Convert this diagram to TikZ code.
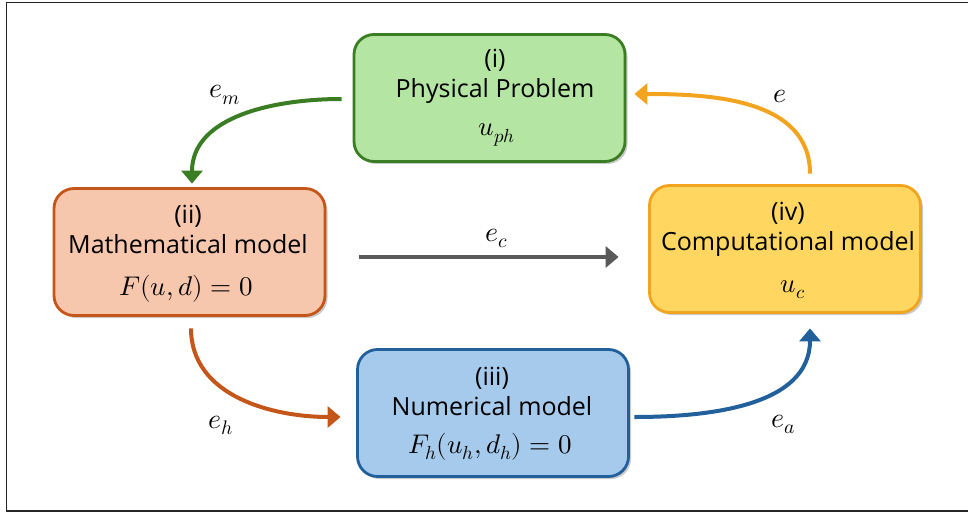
\documentclass[tikz,border=0pt]{standalone}
\usepackage{fontspec}
\usepackage{unicode-math}
\setmathfont{Latin Modern Math}
\newfontfamily\boxfont{Open Sans}
\usetikzlibrary{arrows.meta,shadows}
\definecolor{gfill}{HTML}{B4E5A2}
\definecolor{gline}{HTML}{3B7D23}
\definecolor{ofill}{HTML}{F6C6AD}
\definecolor{oline}{HTML}{C4561A}
\definecolor{yfill}{HTML}{FFD760}
\definecolor{yline}{HTML}{F2A41E}
\definecolor{bfill}{HTML}{A6CAEC}
\definecolor{bline}{HTML}{21609B}
\definecolor{garrow}{HTML}{595959}
\begin{document}
\begin{tikzpicture}[x=1pt,y=1pt,
  box/.style={draw, line width=2.8pt, rounded corners=20pt,
    minimum width=271pt, minimum height=127pt, inner sep=0pt,
    drop shadow={shadow xshift=2.5pt, shadow yshift=-2.5pt, opacity=0.35, fill=black!60}},
  lbl/.style={anchor=base, font=\boxfont\fontsize{25}{30}\selectfont, inner sep=0pt},
  mth/.style={anchor=base, font=\fontsize{27}{32}\selectfont, inner sep=0pt},
  elbl/.style={anchor=base west, font=\fontsize{28}{33}\selectfont, inner sep=0pt},
  conn/.style={line width=4pt, -{Triangle[length=13pt,width=21pt]}},
]
\useasboundingbox (0,0) rectangle (968,-513);
\draw[line width=1.3pt, black!85] (968,-2.5) -- (6.5,-2.5) -- (6.5,-511) -- (968,-511);

% boxes
\node[box, fill=gfill, draw=gline] (phys) at (489.5,-98) {};
\node[box, fill=ofill, draw=oline] (math) at (189.5,-252) {};
\node[box, fill=yfill, draw=yline] (comp) at (785,-249) {};
\node[box, fill=bfill, draw=bline] (num) at (493,-413) {};

% box texts
\node[lbl] (phys1) at (495,-68) {(i)};
\node[lbl] (phys2) at (495,-98) {Physical Problem};
\node[mth] (phys3) at (497,-136) {$u_{ph}$};

\node[lbl] (math1) at (188,-223) {(ii)};
\node[lbl] (math2) at (188,-253) {Mathematical model};
\node[mth] (math3) at (186,-295) {$F(u,d)=0$};

\node[lbl] (comp1) at (788,-220) {(iv)};
\node[lbl] (comp2) at (788,-250) {Computational model};
\node[mth] (comp3) at (793,-292) {$u_c$};

\node[lbl] (num1) at (492,-385) {(iii)};
\node[lbl] (num2) at (492,-415) {Numerical model};
\node[mth] (num3) at (490,-453) {$F_h(u_h,d_h)=0$};

% connectors
\draw[conn, draw=gline] ([xshift=-11pt,yshift=-1pt]phys.west)
  to[out=180,in=90] ([xshift=2.5pt,yshift=3.5pt]math.north);
\draw[conn, draw=oline] ([xshift=1.5pt,yshift=-11.5pt]math.south)
  to[out=-90,in=180] ([xshift=-15.5pt,yshift=-4pt]num.west);
\draw[conn, draw=bline] ([xshift=4.5pt,yshift=-4pt]num.east)
  to[out=0,in=-90] ([xshift=25pt,yshift=-14.5pt]comp.south);
\draw[conn, draw=yline] ([xshift=25pt,yshift=10.5pt]comp.north)
  to[out=90,in=0] ([xshift=8pt,yshift=4pt]phys.east);
\draw[conn, draw=garrow] ([xshift=33pt,yshift=-5pt]math.east)
  -- ([xshift=-29.5pt,yshift=-8pt]comp.west);

% connector labels
\node[elbl] (lem) at (209,-98) {$e_m$};
\node[elbl] (le) at (773,-103) {$e$};
\node[elbl] (leh) at (208,-428) {$e_h$};
\node[elbl] (lea) at (771,-427) {$e_a$};
\node[elbl] (lec) at (485,-241) {$e_c$};
\end{tikzpicture}
\end{document}
